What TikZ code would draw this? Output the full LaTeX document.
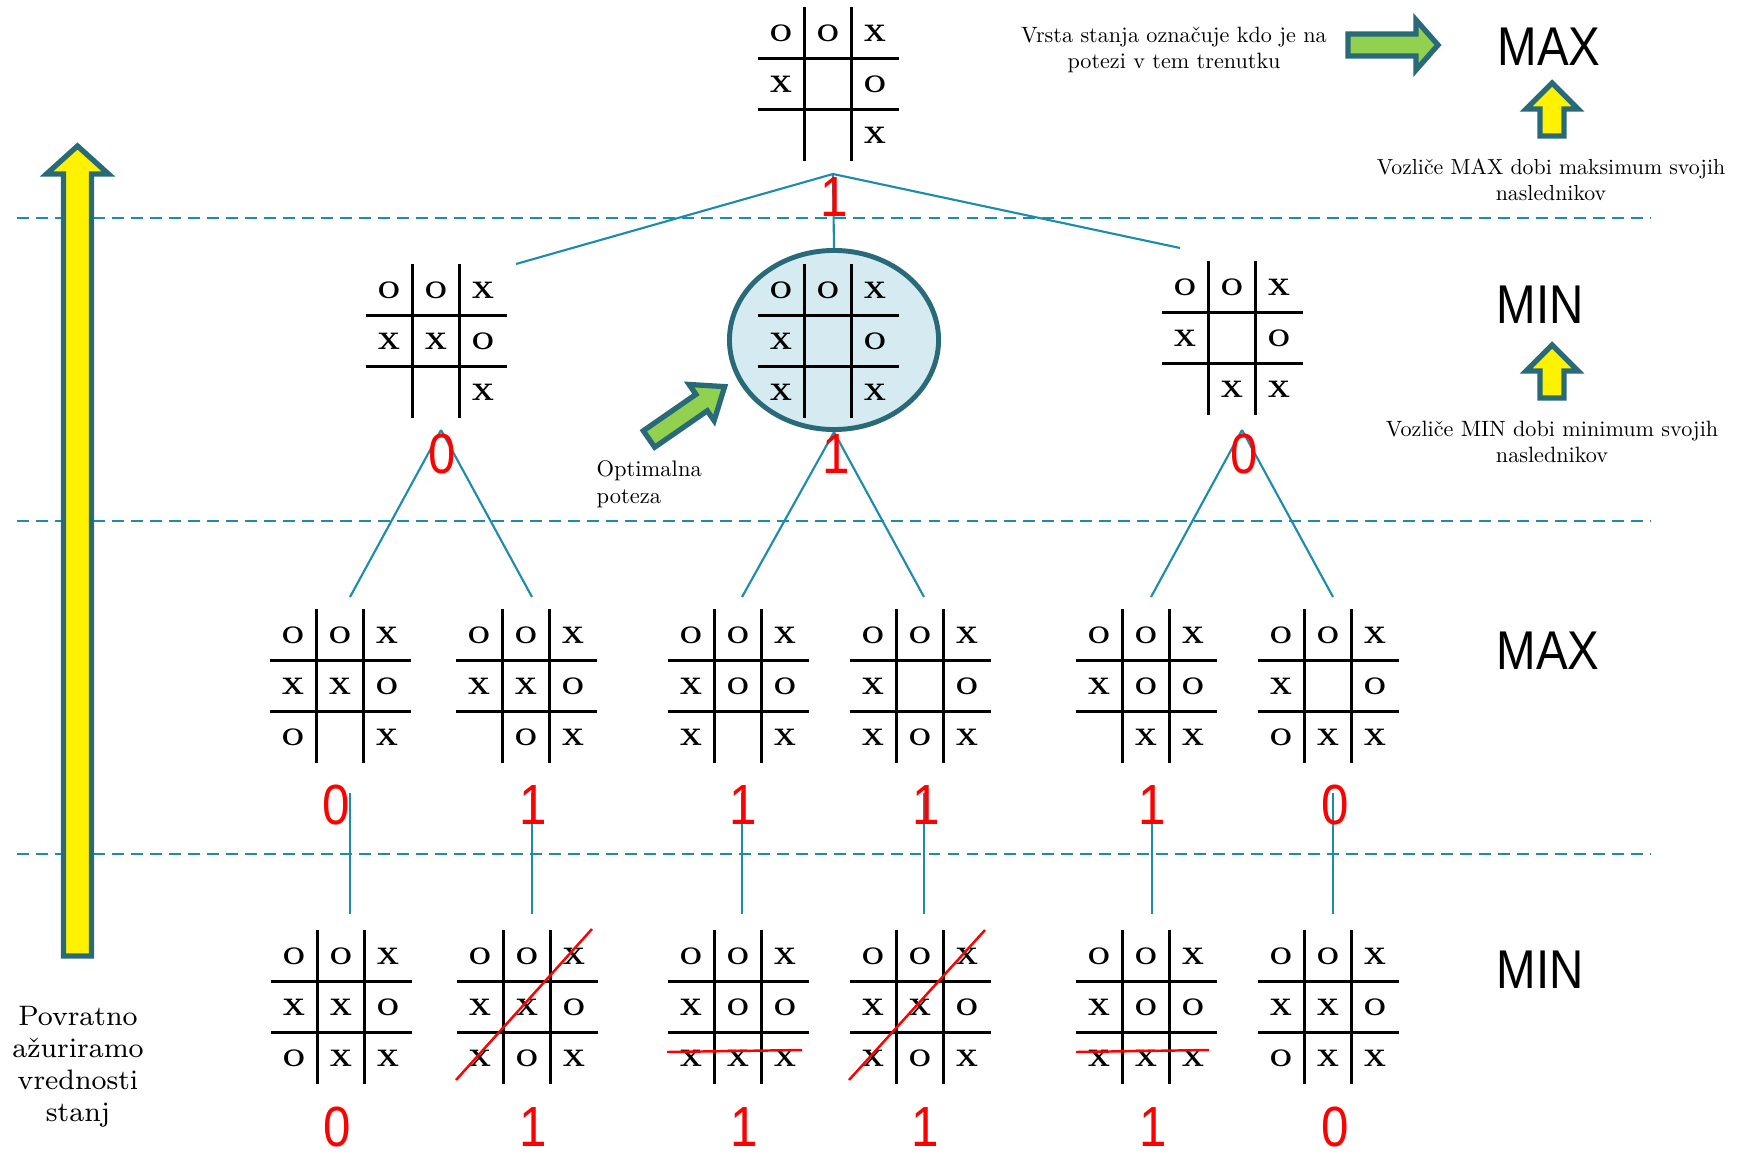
\documentclass[tikz,border=0pt]{standalone}
\usepackage{fontspec}
\usepackage{graphicx}
\newfontfamily\arialfont{Liberation Sans}
\usetikzlibrary{shapes.geometric}
\definecolor{conncol}{RGB}{28,140,170}
\definecolor{arrowedge}{RGB}{41,106,120}
\definecolor{selfill}{RGB}{214,235,241}
\definecolor{agreen}{RGB}{146,208,80}
\tikzset{
  conn/.style={draw=conncol, line width=0.6pt},
  sepline/.style={draw=conncol, line width=0.6pt, dash pattern=on 3.4pt off 2pt},
  gridline/.style={line width=0.95pt, black},
  cellmark/.style={font=\fontsize{6.8}{7}\selectfont\bfseries, inner sep=0pt},
  val/.style={text=red, font=\arialfont\fontsize{14}{16}\selectfont, inner sep=0pt},
  levellab/.style={font=\arialfont\fontsize{13.5}{15}\selectfont, inner sep=0pt},
  note/.style={font=\fontsize{10}{12}\selectfont, inner sep=0pt},
  bignote/.style={font=\fontsize{8}{9.1}\selectfont, align=center, inner sep=0pt},
  fatarrow/.style={draw=arrowedge, line width=1.5pt, line join=miter},
  strike/.style={red, line width=0.7pt},
}
\newcommand\tttboard[4]{%
  \begin{scope}[shift={(#2,#3)}]
    \node[minimum width=1.41cm, minimum height=1.54cm, inner sep=0pt] (#1) at (0,0) {};
    \draw[gridline] (-23.5,-77) -- (-23.5,77) (23.5,-77) -- (23.5,77)
      (-70.5,-25.5) -- (70.5,-25.5) (-70.5,25.5) -- (70.5,25.5);
    \foreach \c [count=\i from 0] in {#4} {
      \pgfmathtruncatemacro\rr{int(\i/3)}
      \pgfmathtruncatemacro\cc{mod(\i,3)}
      \node[cellmark] (#1-\i) at ({(\cc-1)*47},{(\rr-1)*51}) {\c};
    }
  \end{scope}}
\newcommand\fatarrowat[8]{%
  \begin{scope}[shift={(#1,#2)}, rotate=#3]
    \draw[fatarrow, fill=#8] (0,-#5) -- ({#4-#7},-#5) -- ({#4-#7},-#6) -- (#4,0)
      -- ({#4-#7},#6) -- ({#4-#7},#5) -- (0,#5) -- cycle;
  \end{scope}}
\newcommand\ctext[2]{\scalebox{#1}{\begin{tabular}{@{}c@{}}#2\end{tabular}}}
\newcommand\ltext[2]{\scalebox{#1}{\begin{tabular}{@{}l@{}}#2\end{tabular}}}
\newcommand\vv[1]{\scalebox{1}[1.15]{#1}}
\begin{document}
\begin{tikzpicture}[x=0.01cm, y=-0.01cm]
\fill[white] (0,0) rectangle (1737,1155);
\useasboundingbox (0,0) rectangle (1737,1155);

% separators
\draw[sepline] (17,218) -- (1651,218);
\draw[sepline] (17,521) -- (1651,521);
\draw[sepline] (17,854) -- (1651,854);

% selected state ellipse
\node[ellipse, draw=arrowedge, fill=selfill, line width=1.4pt, minimum width=2.09cm, minimum height=1.79cm, inner sep=0pt] (sel) at (834,340) {};

% connector coordinates
\coordinate (a0) at (833,174);
\coordinate (e1l) at (516,264);
\coordinate (e1r) at (1180,248);
\coordinate (a1) at (441,430);
\coordinate (a3) at (1242,430);
\coordinate (t1) at (350,597);
\coordinate (t2) at (532,597);
\coordinate (t3) at (742,597);
\coordinate (t4) at (924,597);
\coordinate (t5) at (1151,597);
\coordinate (t6) at (1333,597);
\foreach \k/\x in {1/350,2/532,3/742,4/924,5/1152,6/1333} {
  \coordinate (u\k) at (\x,793);
  \coordinate (d\k) at (\x,914);
}
\draw[conn] (a0) -- (e1l);
\draw[conn] (a0) -- (sel.north);
\draw[conn] (a0) -- (e1r);
\draw[conn] (a1) -- (t1);
\draw[conn] (a1) -- (t2);
\draw[conn] (sel.south) -- (t3);
\draw[conn] (sel.south) -- (t4);
\draw[conn] (a3) -- (t5);
\draw[conn] (a3) -- (t6);
\foreach \k in {1,...,6} { \draw[conn] (u\k) -- (d\k); }

% boards
\tttboard{b0}{828}{84}{O,O,X,X,{},O,{},{},X}
\tttboard{b11}{436}{341}{O,O,X,X,X,O,{},{},X}
\tttboard{b12}{828}{341}{O,O,X,X,{},O,X,{},X}
\tttboard{b13}{1232}{338}{O,O,X,X,{},O,{},X,X}

\tttboard{b21}{340}{686}{O,O,X,X,X,O,O,{},X}
\tttboard{b22}{526}{686}{O,O,X,X,X,O,{},O,X}
\tttboard{b23}{738}{686}{O,O,X,X,O,O,X,{},X}
\tttboard{b24}{920}{686}{O,O,X,X,{},O,X,O,X}
\tttboard{b25}{1146}{686}{O,O,X,X,O,O,{},X,X}
\tttboard{b26}{1328}{686}{O,O,X,X,{},O,O,X,X}

\tttboard{b31}{341}{1007}{O,O,X,X,X,O,O,X,X}
\tttboard{b32}{527}{1007}{O,O,X,X,X,O,X,O,X}
\tttboard{b33}{738}{1007}{O,O,X,X,O,O,X,X,X}
\tttboard{b34}{920}{1007}{O,O,X,X,X,O,X,O,X}
\tttboard{b35}{1146}{1007}{O,O,X,X,O,O,X,X,X}
\tttboard{b36}{1328}{1007}{O,O,X,X,X,O,O,X,X}

% winning lines
\draw[strike] (456,1080) -- (592,929);
\draw[strike] (849,1080) -- (985,930);
\draw[strike] (667,1052) -- (802,1050);
\draw[strike] (1076,1052) -- (1209,1050);

% values
\node[val] (v0) at (834,197) {\vv{1}};
\node[val] (v11) at (442,454) {\vv{0}};
\node[val] (v12) at (836,454) {\vv{1}};
\node[val] (v13) at (1244,454) {\vv{0}};
\foreach \k/\x/\t in {1/336/0,2/533/1,3/743/1,4/926/1,5/1152/1,6/1335/0} {
  \node[val] (v2\k) at (\x,805) {\vv{\t}};
}
\foreach \k/\x/\t in {1/337/0,2/533/1,3/744/1,4/925/1,5/1153/1,6/1335/0} {
  \node[val] (v3\k) at (\x,1127) {\vv{\t}};
}

% level labels
\node[levellab] (l0) at (1549,47) {\vv{MAX}};
\node[levellab] (l1) at (1540,305) {\vv{MIN}};
\node[levellab] (l2) at (1548,651) {\vv{MAX}};
\node[levellab] (l3) at (1540,970) {\vv{MIN}};

% arrows
\fatarrowat{77.5}{956}{90}{810}{14}{31}{28}{yellow}
\fatarrowat{1348}{45}{0}{90}{11}{25}{22}{agreen}
\fatarrowat{1552}{136}{90}{53}{12}{26}{26}{yellow}
\fatarrowat{1552}{398}{90}{53}{12}{26}{26}{yellow}
\fatarrowat{649}{439}{34.7}{92}{10}{22}{28}{agreen}

% notes
\node[note] (n1) at (1174,50) {\ctext{0.63}{Vrsta stanja označuje kdo je na\\potezi v tem trenutku}};
\node[note] (n2) at (1551,182) {\ctext{0.62}{Vozliče MAX dobi maksimum svojih\\naslednikov}};
\node[note] (n3) at (1552,444) {\ctext{0.63}{Vozliče MIN dobi minimum svojih\\naslednikov}};
\node[note, anchor=west] (n4) at (596,485) {\ltext{0.64}{Optimalna\\poteza}};
\node[bignote] (n5) at (78,1067) {Povratno\\ažuriramo\\vrednosti\\stanj};
\end{tikzpicture}
\end{document}
